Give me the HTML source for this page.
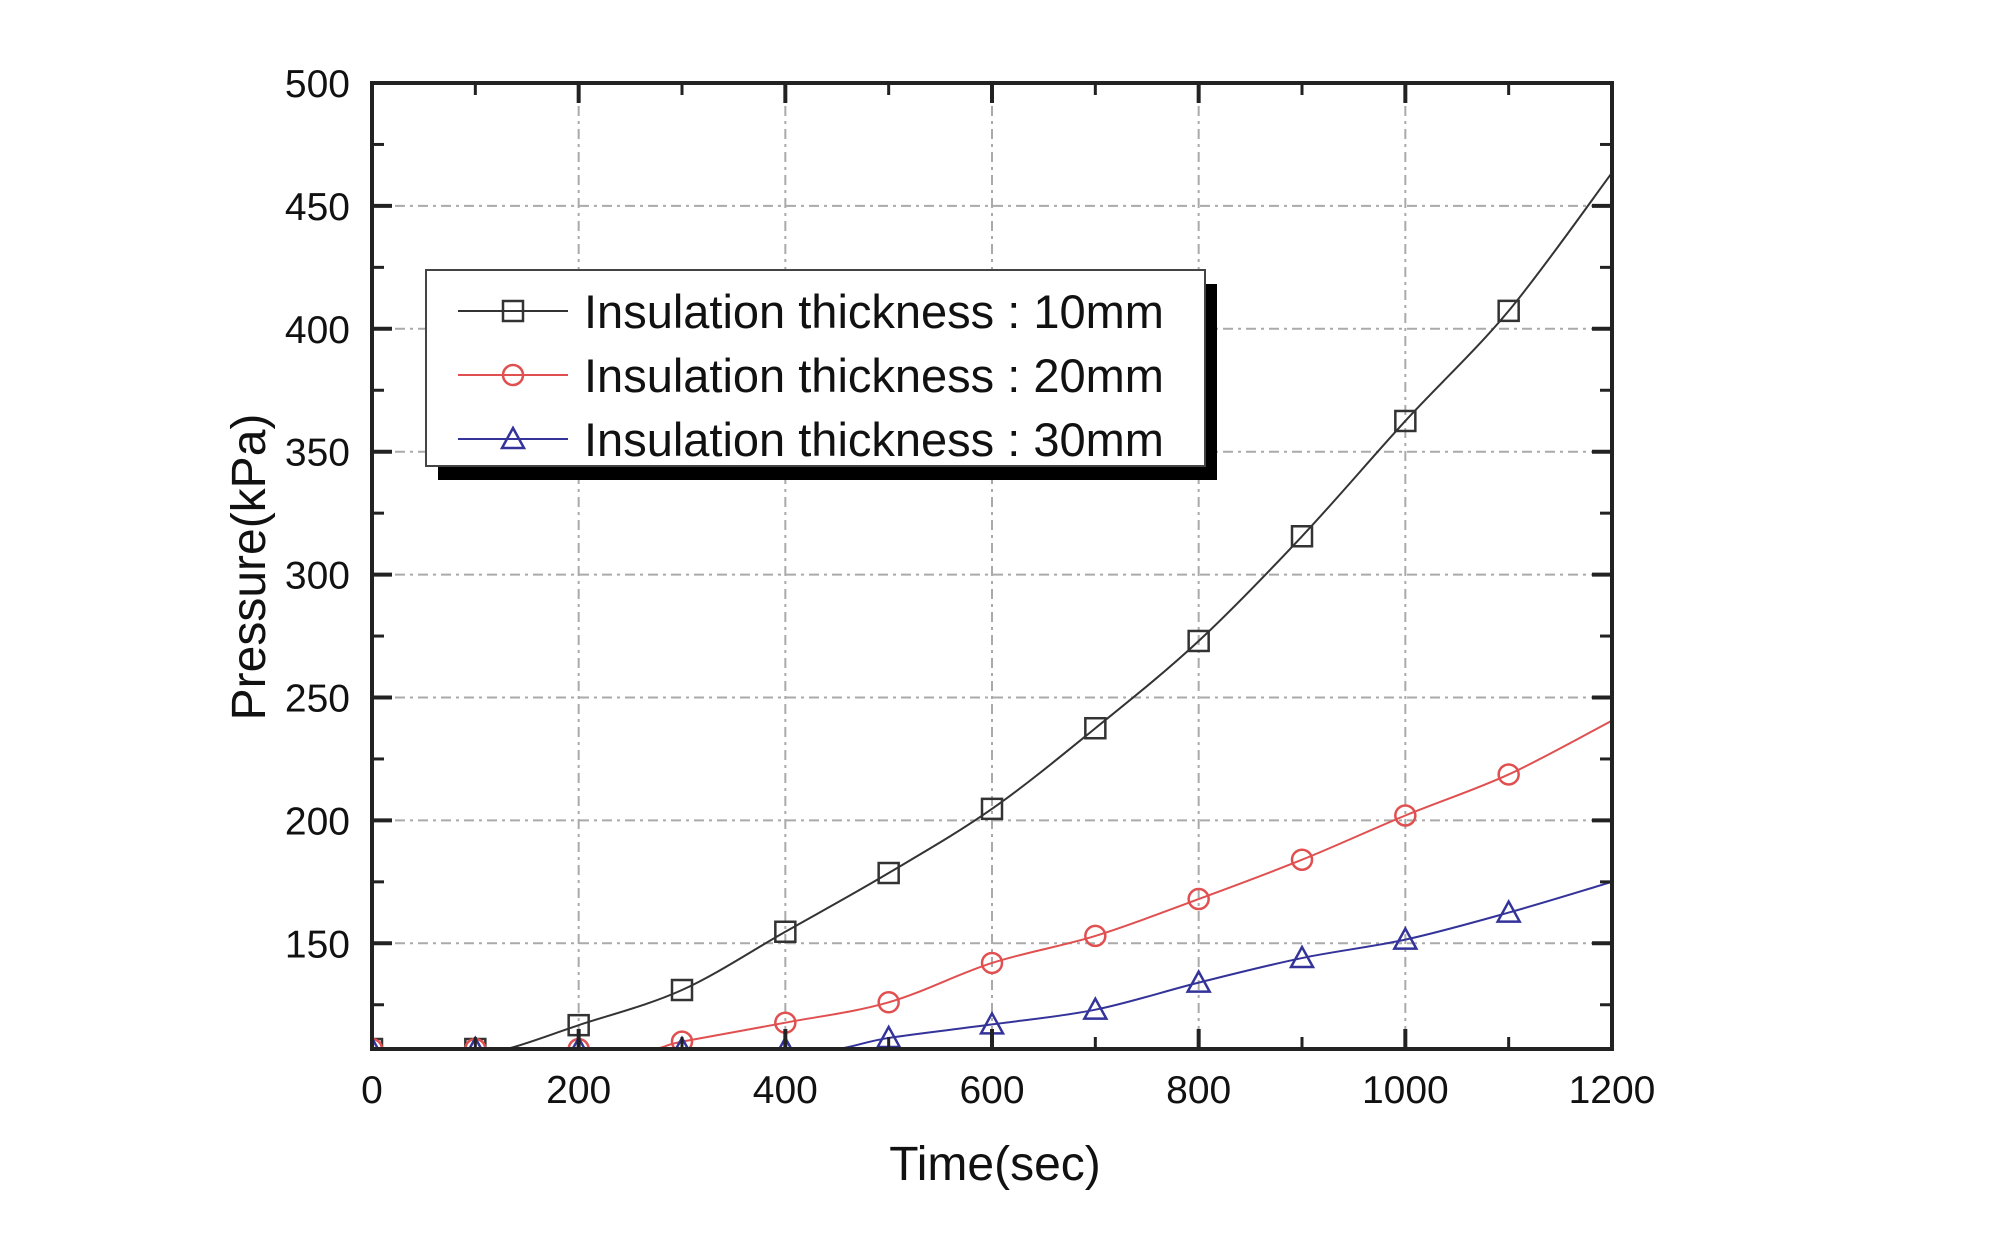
<!DOCTYPE html>
<html><head><meta charset="utf-8"><style>
html,body{margin:0;padding:0;background:#fff;}
svg{display:block;}
text{font-family:"Liberation Sans",Arial,sans-serif;fill:#111;}
</style></head><body>
<svg id="chart" width="1995" height="1253" viewBox="0 0 1995 1253">
<defs><clipPath id="pc"><rect x="372" y="83" width="1240" height="966"/></clipPath></defs>
<g id="grid"></g>
<g id="series" clip-path="url(#pc)"></g>
<g id="axes"></g>
<text x="995" y="1180" font-size="48" text-anchor="middle">Time(sec)</text>
<text transform="translate(265,567) rotate(-90)" font-size="48" text-anchor="middle">Pressure(kPa)</text>
<g id="legend"></g>
</svg>
<script>
const xTicks=[0,200,400,600,800,1000,1200];
const yTicks=[150,200,250,300,350,400,450,500];
const times=[0,100,130,200,270,300,400,450,500,600,700,800,900,1000,1100,1200];
const s10=[107,107,107,116.7,null,131,154.7,null,178.6,204.7,237.5,273,315.6,362.5,407.3,463.5];
const s20=[107,107,null,107,107,110,117.7,null,126,142,153,168,184,202,218.7,240.6];
const s30=[107,107,null,107,null,107,107,107,111.5,117,123,134,144,151.5,162.5,175];
const seriesNames=["Insulation thickness : 10mm","Insulation thickness : 20mm","Insulation thickness : 30mm"];
const colors=["#333","#e05050","#33339a"];
const markers=["square","circle","triangle"];
const L=372,R=1612,T=83,B=1049,XMIN=0,XMAX=1200,YMIN=107,YMAX=500;
const sx=v=>L+(v-XMIN)/(XMAX-XMIN)*(R-L);
const sy=v=>B-(v-YMIN)/(YMAX-YMIN)*(B-T);
const NS="http://www.w3.org/2000/svg";
function mk(tag,attrs,parent){const e=document.createElementNS(NS,tag);for(const k in attrs)e.setAttribute(k,attrs[k]);parent.appendChild(e);return e;}
const grid=document.getElementById('grid'),axes=document.getElementById('axes'),ser=document.getElementById('series'),leg=document.getElementById('legend');
xTicks.forEach(v=>{
  if(v>XMIN&&v<XMAX){const g=mk('line',{x1:sx(v),x2:sx(v),y1:T,y2:B,stroke:'#aaa','stroke-width':2,'stroke-dasharray':'10 5 3 5'},grid);
  }
  const t=mk('text',{x:sx(v),y:B+54,'font-size':39,'text-anchor':'middle'},axes);t.textContent=v;
  
  [B,T].forEach((yy,i)=>mk('line',{x1:sx(v),x2:sx(v),y1:yy,y2:i?yy+20:yy-20,stroke:'#222','stroke-width':4},axes));
});
for(let v=100;v<1200;v+=200){[B,T].forEach((yy,i)=>mk('line',{x1:sx(v),x2:sx(v),y1:yy,y2:i?yy+12:yy-12,stroke:'#222','stroke-width':3},axes));}
yTicks.forEach(v=>{
  if(v<YMAX){const g=mk('line',{x1:L,x2:R,y1:sy(v),y2:sy(v),stroke:'#aaa','stroke-width':2,'stroke-dasharray':'10 5 3 5'},grid);
  }
  const t=mk('text',{x:350,y:sy(v)+14,'font-size':39,'text-anchor':'end'},axes);t.textContent=v;
  
  [L,R].forEach((xx,i)=>mk('line',{x1:xx,x2:i?xx-20:xx+20,y1:sy(v),y2:sy(v),stroke:'#222','stroke-width':4},axes));
});
for(let v=125;v<500;v+=50){[L,R].forEach((xx,i)=>mk('line',{x1:xx,x2:i?xx-12:xx+12,y1:sy(v),y2:sy(v),stroke:'#222','stroke-width':3},axes));}
const frame=mk('rect',{x:L,y:T,width:R-L,height:B-T,fill:'none',stroke:'#222','stroke-width':4},axes);

function marker(type,x,y,c,parent){
  if(type==='square')return mk('rect',{x:x-10,y:y-10,width:20,height:20,fill:'none',stroke:c,'stroke-width':2.5},parent);
  if(type==='circle')return mk('circle',{cx:x,cy:y,r:10,fill:'none',stroke:c,'stroke-width':2.5},parent);
  return mk('polygon',{points:`${x},${y-11} ${x+11},${y+9} ${x-11},${y+9}`,fill:'none',stroke:c,'stroke-width':2.5},parent);
}
function path(pts){let d=`M${pts[0][0]},${pts[0][1]}`;
  for(let i=0;i<pts.length-1;i++){const p0=pts[i-1]||pts[i],p1=pts[i],p2=pts[i+1],p3=pts[i+2]||p2;
    const c1=[p1[0]+(p2[0]-p0[0])/6,p1[1]+(p2[1]-p0[1])/6],c2=[p2[0]-(p3[0]-p1[0])/6,p2[1]-(p3[1]-p1[1])/6];
    d+=` C${c1[0]},${Math.min(B,c1[1])} ${c2[0]},${Math.min(B,c2[1])} ${p2[0]},${p2[1]}`;}
  return d;}
[s10,s20,s30].forEach((s,k)=>{
  const g=mk('g',{},ser);
  const pts=[];times.forEach((t,i)=>{if(s[i]!==null)pts.push([sx(t),sy(s[i])]);});
  const p=mk('path',{d:path(pts),fill:'none',stroke:colors[k],'stroke-width':2},g);
  
  times.forEach((t,i)=>{if(s[i]!==null&&t%100===0&&t<XMAX){const m=marker(markers[k],sx(t),sy(s[i]),colors[k],g);
    }});
});
const sh=mk('rect',{x:438,y:284,width:779,height:196,fill:'#000'},leg);

const box=mk('rect',{x:426,y:270,width:779,height:196,fill:'#fff',stroke:'#444','stroke-width':2},leg);

seriesNames.forEach((n,k)=>{
  const y=311+k*64;
  const g=mk('g',{},leg);
  mk('line',{x1:458,x2:568,y1:y,y2:y,stroke:colors[k],'stroke-width':2},g);
  marker(markers[k],513,y,colors[k],g);
  const t=mk('text',{x:584,y:y+17,'font-size':47},g);t.textContent=n;
  
});
</script>
</body></html>
